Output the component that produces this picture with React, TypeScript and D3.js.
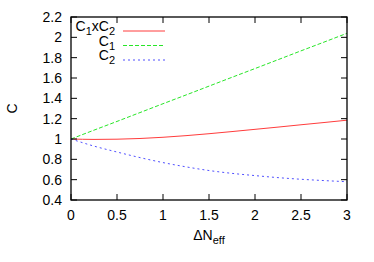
import React from 'react';
import * as d3 from 'd3';

// values
const dN = [0, 0.25, 0.5, 0.75, 1, 1.25, 1.5, 1.75, 2, 2.25, 2.5, 2.75, 3];
const c1 = [1, 1.087, 1.173, 1.26, 1.347, 1.433, 1.52, 1.607, 1.693, 1.78, 1.867, 1.953, 2.04];
const c2 = [1, 0.93, 0.872, 0.817, 0.768, 0.726, 0.69, 0.662, 0.64, 0.62, 0.604, 0.591, 0.58];
const c1c2 = [1, 0.996, 0.998, 1.005, 1.017, 1.033, 1.052, 1.073, 1.095, 1.117, 1.14, 1.162, 1.185];

const xTicks = [0, 0.5, 1, 1.5, 2, 2.5, 3];
const yTicks = [0.4, 0.6, 0.8, 1, 1.2, 1.4, 1.6, 1.8, 2, 2.2];

const series = [
  { name: 'C1xC2', values: c1c2, color: 'rgb(255, 60, 60)', dash: '' },
  { name: 'C1', values: c1, color: 'rgb(40, 230, 40)', dash: '4,2' },
  { name: 'C2', values: c2, color: 'rgb(80, 80, 255)', dash: '2,3' }
];

export default function App(): JSX.Element {
  const width = 374;
  const height = 262;
  const margin = { top: 17, right: 27, bottom: 62, left: 71 };

  const x = d3.scaleLinear().domain([0, 3]).range([margin.left, width - margin.right]);
  const y = d3.scaleLinear().domain([0.4, 2.2]).range([height - margin.bottom, margin.top]);

  const line = d3
    .line<number>()
    .x((_, i) => x(dN[i]))
    .y((d) => y(d))
    .curve(d3.curveMonotoneX);

  const font = '"Liberation Sans", Arial, sans-serif';
  const tick = 6;
  const x0 = x.range()[0];
  const x1 = x.range()[1];
  const y0 = y.range()[0];
  const y1 = y.range()[1];

  // C1xC2 -> C, sub 1, x, C, sub 2
  const label = (name: string) => {
    const parts = name.match(/C|\d|x/g) || [];
    let down = false;
    return parts.map((p, i) => {
      const isSub = /\d/.test(p);
      let dy = 0;
      if (isSub && !down) {
        dy = 4;
        down = true;
      } else if (!isSub && down) {
        dy = -4;
        down = false;
      }
      return (
        <tspan key={i} dy={dy} fontSize={isSub ? 11 : 14}>
          {p}
        </tspan>
      );
    });
  };

  return (
    <svg
      width={width}
      height={height}
      style={{ position: 'absolute', left: 0, top: 0, background: 'white' }}
      fontFamily={font}
      fontSize={14}
    >
      <defs>
        <clipPath id="plotclip">
          <rect x={x0} y={y1} width={x1 - x0} height={y0 - y1} />
        </clipPath>
      </defs>
      <g clipPath="url(#plotclip)">
        {series.map((s) => (
          <path
            key={s.name}
            d={line(s.values) || ''}
            fill="none"
            stroke={s.color}
            strokeWidth={1}
            strokeDasharray={s.dash}
          />
        ))}
      </g>

      {/* ticks on all four sides */}
      {xTicks.map((t) => (
        <g key={'x' + t}>
          <line x1={x(t)} x2={x(t)} y1={y0} y2={y0 - tick} stroke="black" />
          <line x1={x(t)} x2={x(t)} y1={y1} y2={y1 + tick} stroke="black" />
          <text x={x(t)} y={y0 + 20} textAnchor="middle">
            {t}
          </text>
        </g>
      ))}
      {yTicks.map((t) => (
        <g key={'y' + t}>
          <line x1={x0} x2={x0 + tick} y1={y(t)} y2={y(t)} stroke="black" />
          <line x1={x1} x2={x1 - tick} y1={y(t)} y2={y(t)} stroke="black" />
          <text x={x0 - 9} y={y(t)} dy="0.35em" textAnchor="end">
            {t}
          </text>
        </g>
      ))}
      <rect x={x0} y={y1} width={x1 - x0} height={y0 - y1} fill="none" stroke="black" strokeWidth={1.3} />

      {/* axis titles */}
      <text transform={`translate(17, ${(y0 + y1) / 2}) rotate(-90)`} textAnchor="middle">
        C
      </text>
      <text x={(x0 + x1) / 2} y={y0 + 40} textAnchor="middle">
        <tspan>ΔN</tspan>
        <tspan dy={4} fontSize={11}>
          eff
        </tspan>
      </text>

      {/* legend */}
      {series.map((s, i) => {
        const ly = 31 + i * 14.5;
        return (
          <g key={'leg' + s.name}>
            <text x={115} y={ly} dy="0.35em" textAnchor="end">
              {label(s.name)}
            </text>
            <line x1={123} x2={165} y1={ly} y2={ly} stroke={s.color} strokeDasharray={s.dash} />
          </g>
        );
      })}
    </svg>
  );
}
